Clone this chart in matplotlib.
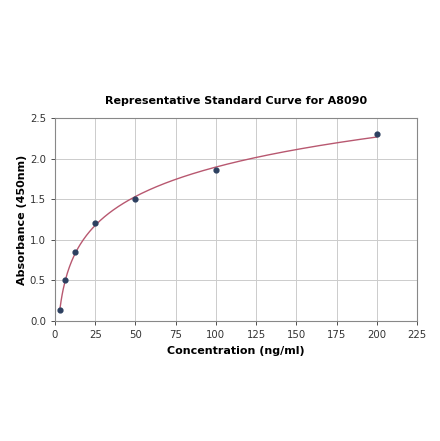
import numpy as np
import matplotlib
matplotlib.use("Agg")
import matplotlib.pyplot as plt

# standard points
conc = [3.125, 6.25, 12.5, 25, 50, 100, 200]
absorb = [0.14, 0.50, 0.85, 1.21, 1.50, 1.86, 2.30]

x_ticks = [0, 25, 50, 75, 100, 125, 150, 175, 200, 225]
y_ticks = [0.0, 0.5, 1.0, 1.5, 2.0, 2.5]

fig = plt.figure(figsize=(4.4, 4.41), dpi=100)
ax = fig.add_axes([0.125, 0.272, 0.823, 0.46])

# smooth fit through the points (polynomial in log concentration)
lx = np.log(conc)
coef = np.polyfit(lx, absorb, 2)
xs = np.linspace(min(conc), max(conc), 300)
ax.plot(xs, np.polyval(coef, np.log(xs)), color="#b85870", linewidth=1.0, zorder=2)
ax.scatter(conc, absorb, s=12, color="#2d4060", zorder=3)

ax.set_xlim(0, 225)
ax.set_ylim(0, 2.5)
ax.set_xticks(x_ticks)
ax.set_yticks(y_ticks)
ax.tick_params(labelsize=7.3, length=3, width=0.6, colors="#333333")
ax.grid(True, color="#cccccc", linewidth=0.7)
ax.set_axisbelow(True)
for s in ax.spines.values():
    s.set_color("#888888")
    s.set_linewidth(0.8)

ax.set_title("Representative Standard Curve for A8090", fontsize=8, fontweight="bold", pad=10)
ax.set_xlabel("Concentration (ng/ml)", fontsize=8, fontweight="bold")
ax.set_ylabel("Absorbance (450nm)", fontsize=8, fontweight="bold", labelpad=2)

fig.savefig("out.png", dpi=100)
